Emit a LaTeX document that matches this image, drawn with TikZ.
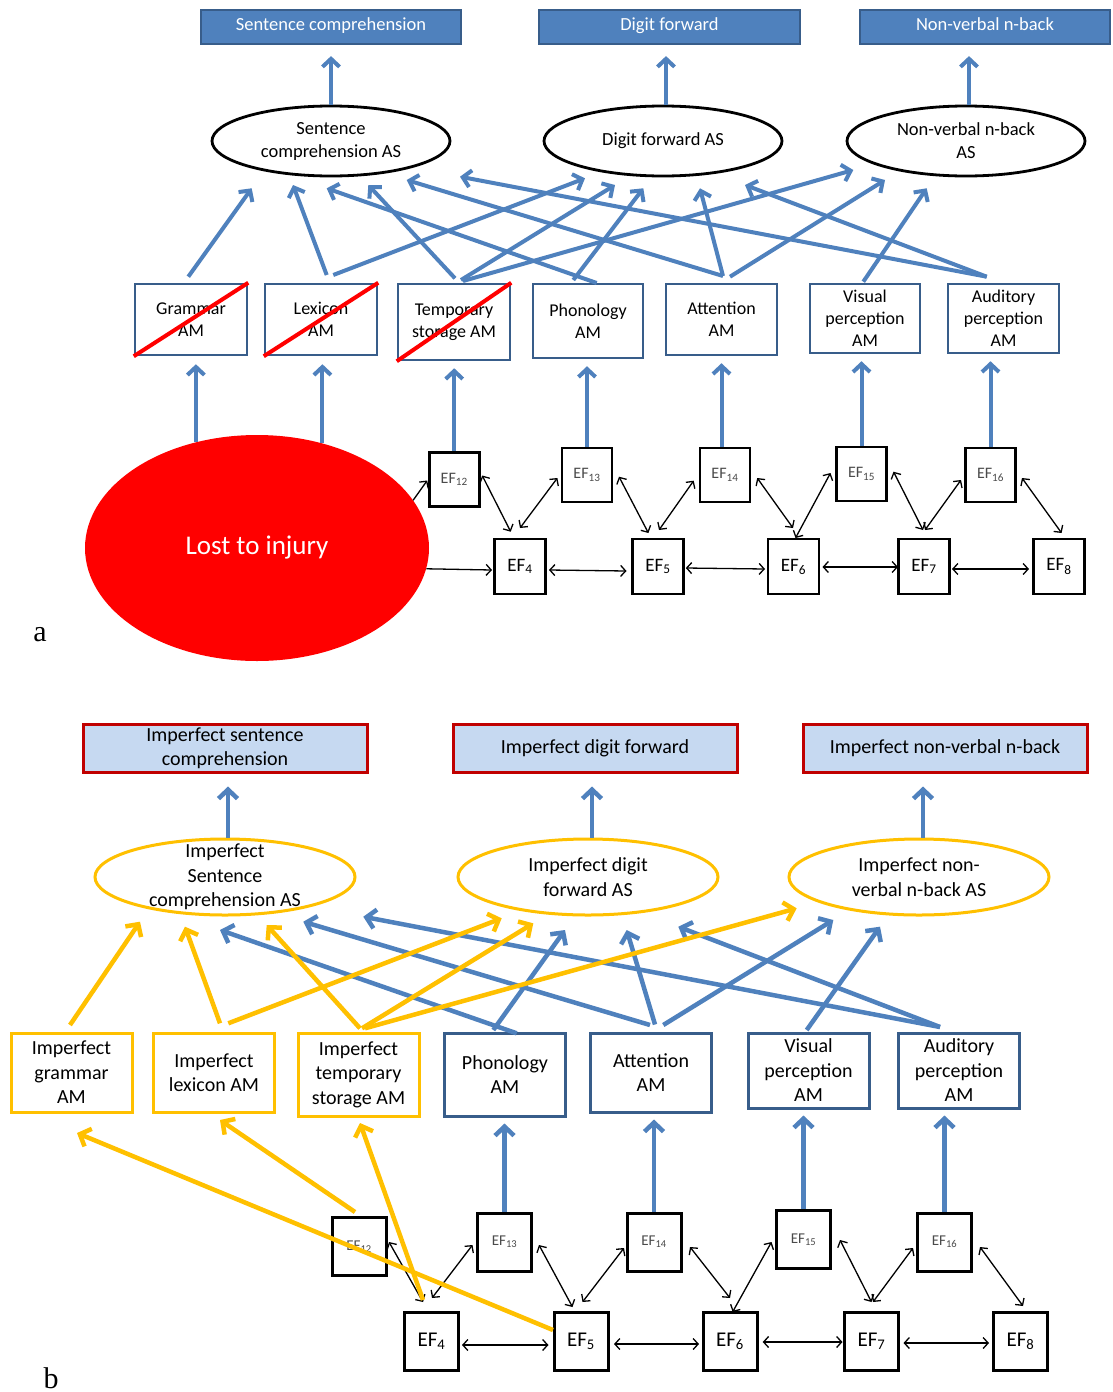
\documentclass[tikz,border=0pt]{standalone}
\usepackage{fontspec}
\setmainfont{Carlito}
\newfontfamily\labfont{Liberation Serif}
\usetikzlibrary{arrows.meta,shapes.geometric,calc}
\definecolor{bl}{HTML}{4F81BD}
\definecolor{bldark}{HTML}{385D8A}
\definecolor{gold}{HTML}{FFC000}
\definecolor{lightbl}{HTML}{C6D9F1}
\definecolor{darkred}{HTML}{C00000}
\definecolor{efgray}{HTML}{4A4A4A}
\newcommand{\EFs}[1]{EF\textsubscript{#1}}
\begin{document}
\begin{tikzpicture}[x=1pt,y=-1pt,
  topa/.style={draw=bldark,line width=2.2pt,fill=bl,text=white,inner sep=0pt,minimum height=34pt,text height=0.75em,text depth=0.05em,font=\fontsize{18.5}{22}\selectfont},
  asa/.style={ellipse,draw=black,line width=2.8pt,inner sep=0pt,minimum width=238pt,minimum height=70pt,align=center,font=\fontsize{18.5}{23}\selectfont},
  ama/.style={rectangle,draw=bldark,line width=2.5pt,fill=white,inner sep=0pt,minimum width=112pt,align=center,font=\fontsize{18}{22}\selectfont},
  strike/.style={draw=red,line width=4pt},
  efa/.style={rectangle,draw=black,line width=2.8pt,fill=white,inner sep=0pt,minimum width=50pt,minimum height=54pt},
  efab/.style={efa,minimum width=51pt,minimum height=55pt,font=\fontsize{19}{22}\selectfont},
  efat/.style={efa,text=efgray,font=\fontsize{16}{18}\selectfont},
  topb/.style={draw=darkred,line width=3pt,fill=lightbl,inner sep=0pt,minimum width=284pt,minimum height=48pt,align=center,font=\fontsize{20}{24}\selectfont},
  asb/.style={ellipse,draw=gold,line width=3pt,inner sep=0pt,minimum width=260pt,minimum height=76pt,align=center,font=\fontsize{20}{24.5}\selectfont},
  amb/.style={rectangle,line width=3pt,fill=white,inner sep=0pt,minimum width=121pt,align=center,font=\fontsize{20}{24.5}\selectfont},
  efb/.style={rectangle,draw=black,line width=3pt,fill=white,inner sep=0pt,minimum width=54pt,minimum height=58pt},
  efbb/.style={efb,font=\fontsize{21}{24}\selectfont},
  efbt/.style={efb,text=efgray,font=\fontsize{15}{17}\selectfont},
  arra/.style={draw=bl,line width=4pt,-{Straight Barb[length=8pt,width=17pt]}},
  arrb/.style={draw=bl,line width=4.5pt,-{Straight Barb[length=9pt,width=19pt]}},
  arrg/.style={draw=gold,line width=4.5pt,-{Straight Barb[length=9pt,width=19pt]}},
  efarr/.style={draw=black,line width=1.3pt,{Straight Barb[length=5pt,width=11pt]}-{Straight Barb[length=5pt,width=11pt]}},
  efone/.style={draw=black,line width=1.3pt,-{Straight Barb[length=5pt,width=11pt]}},
  lab/.style={font=\labfont\fontsize{30}{36}\selectfont,inner sep=0pt,anchor=base}
]
\path[use as bounding box,fill=white] (0,0) rectangle (1112,1392);

% ================= panel a =================
\node[topa,minimum width=260pt] (topA1) at (331,27) {Sentence comprehension};
\node[topa,minimum width=261pt] (topA2) at (669.5,27) {Digit forward};
\node[topa,minimum width=250pt] (topA3) at (985,27) {Non-verbal n-back};

\node[asa] (sasA) at (331,141) {Sentence\\comprehension AS};
\node[asa] (dasA) at (663,141) {Digit forward AS};
\node[asa] (nasA) at (966,141) {Non-verbal n-back\\AS};

\node[ama,minimum height=71pt] (gramA) at (191,319.5) {Grammar\\AM};
\node[ama,minimum height=71pt] (lexA) at (321,319.5) {Lexicon\\AM};
\node[ama,minimum height=76pt] (tempA) at (454,322) {Temporary\\storage AM};
\node[ama,minimum width=110pt,minimum height=74pt] (phonA) at (588,321) {Phonology\\AM};
\node[ama,minimum width=111pt,minimum height=71pt] (attA) at (721.5,319.5) {Attention\\AM};
\node[ama,minimum width=110pt,minimum height=69pt] (visA) at (865,318.5) {Visual\\perception\\AM};
\node[ama,minimum width=111pt,minimum height=69pt] (audA) at (1003.5,318.5) {Auditory\\perception\\AM};

\draw[strike] (gramA.south west) -- (gramA.north east);
\draw[strike] (lexA.south west) -- (lexA.north east);
\draw[strike] (tempA.south west) -- (tempA.north east);

\node[ellipse,fill=red,minimum width=344pt,minimum height=226pt,inner sep=0pt,text=white,font=\fontsize{27}{32}\selectfont] (lost) at (257,548) {Lost to injury};

\node[efat] (ef12a) at (454.2,479.5) {\EFs{12}};
\node[efat] (ef13a) at (587,475) {\EFs{13}};
\node[efat] (ef14a) at (725,475) {\EFs{14}};
\node[efat] (ef15a) at (861.5,474) {\EFs{15}};
\node[efat] (ef16a) at (990.5,475) {\EFs{16}};
\node[efab] (ef4a) at (520,566.5) {\EFs{4}};
\node[efab] (ef5a) at (658,566.5) {\EFs{5}};
\node[efab] (ef6a) at (793.5,566.5) {\EFs{6}};
\node[efab] (ef7a) at (924,566.5) {\EFs{7}};
\node[efab] (ef8a) at (1059,566.5) {\EFs{8}};

% AS -> task
\draw[arra,shorten >=11pt] (sasA.north) -- (sasA.north |- topA1.south);
\draw[arra,shorten >=11pt] ($(dasA.north)+(3,0)$) -- ($(dasA.north |- topA2.south)+(3,0)$);
\draw[arra,shorten >=11pt] ($(nasA.north)+(3,0)$) -- ($(nasA.north |- topA3.south)+(3,0)$);

% AM -> AS
\draw[arra] ($(gramA)+(-2.7,-42.8)$) -- ($(sasA)+(-79.3,47.3)$);
\draw[arra] ($(lexA)+(5.7,-44.5)$) -- ($(sasA)+(-38,44)$);
\draw[arra] ($(lexA)+(12.3,-44.5)$) -- ($(dasA)+(-78,37.3)$);
\draw[arra] ($(tempA)+(1,-43.7)$) -- ($(sasA)+(37.3,44)$);
\draw[arra] ($(tempA)+(7,-42)$) -- ($(dasA)+(-48,44)$);
\draw[arra] ($(tempA)+(9,-41)$) -- ($(nasA)+(-112.7,29)$);
\draw[arra] ($(phonA)+(8.7,-38)$) -- ($(sasA)+(-4.3,47.3)$);
\draw[arra] ($(phonA)+(-14.7,-41)$) -- ($(dasA)+(-19.7,47.3)$);
\draw[arra] ($(attA)+(1.5,-43.5)$) -- ($(sasA)+(75.7,39)$);
\draw[arra] ($(attA)+(1.5,-43.5)$) -- ($(dasA)+(37,47.3)$);
\draw[arra] ($(attA)+(8.5,-42.8)$) -- ($(nasA)+(-81,39)$);
\draw[arra] ($(visA)+(-1.7,-36.8)$) -- ($(nasA)+(-39.3,47.3)$);
\draw[arra] ($(audA)+(-16.8,-41.8)$) -- ($(sasA)+(129,35.7)$);
\draw[arra] ($(audA)+(-16.8,-41.8)$) -- ($(dasA)+(82,44)$);

% EF / injury -> AM
\draw[arra,shorten >=8pt] (lost.120.6) -- (lost.120.6 |- gramA.south);
\draw[arra,shorten >=8pt] (lost.58.2) -- (lost.58.2 |- lexA.south);
\draw[arra,shorten >=7pt] (ef12a.north) -- (ef12a.north |- tempA.south);
\draw[arra,shorten >=7pt] (ef13a.north) -- (ef13a.north |- phonA.south);
\draw[arra,shorten >=7pt] (attA.south |- ef14a.north) -- (attA.south);
\draw[arra,shorten >=7pt] (ef15a.north) -- (ef15a.north |- visA.south);
\draw[arra,shorten >=7pt] (ef16a.north) -- (ef16a.north |- audA.south);

% EF network
\draw[efone] (lost.17.1) -- ($(ef12a)+(-27,1)$);
\draw[efone] (lost.-7.4) -- ($(ef4a)+(-28,3.5)$);
\draw[efarr] ($(ef12a)+(28,-4)$) -- ($(ef4a)+(-9.3,-34.8)$);
\draw[efarr] ($(ef13a)+(-29.6,3)$) -- ($(ef4a)+(0,-38.5)$);
\draw[efarr] ($(ef13a)+(32,1.7)$) -- ($(ef5a)+(-9.6,-33.5)$);
\draw[efarr] ($(ef14a)+(-31.3,5.7)$) -- ($(ef5a)+(1,-36.5)$);
\draw[efarr] ($(ef14a)+(32.2,3)$) -- ($(ef6a)+(-0.5,-38.5)$);
\draw[efarr] ($(ef15a)+(-31,-1)$) -- ($(ef6a)+(2,-28.5)$);
\draw[efarr] ($(ef15a)+(32,-2.3)$) -- ($(ef7a)+(-1,-36.5)$);
\draw[efarr] ($(ef16a)+(-29.5,5)$) -- ($(ef7a)+(1,-36.5)$);
\draw[efarr] ($(ef16a)+(31.5,3)$) -- ($(ef8a)+(2.6,-33.5)$);
\draw[efarr] ($(ef4a)+(29,3.5)$) -- ($(ef5a)+(-31.5,4.5)$);
\draw[efarr] ($(ef5a)+(27.8,1.5)$) -- ($(ef6a)+(-28.5,2.5)$);
\draw[efarr] ($(ef6a)+(29,0.5)$) -- ($(ef7a)+(-26,0.5)$);
\draw[efarr] ($(ef7a)+(28,2.5)$) -- ($(ef8a)+(-30,2.5)$);

\node[lab] (labA) at (40,641) {a};

% ================= panel b =================
\node[topb] (topB1) at (225,748) {Imperfect sentence\\comprehension};
\node[topb] (topB2) at (595,748) {Imperfect digit forward};
\node[topb] (topB3) at (945,748) {Imperfect non-verbal n-back};

\node[asb,inner ysep=-14pt] (sasB) at (225,877) {Imperfect\\Sentence\\comprehension AS};
\node[asb] (dasB) at (588,877) {Imperfect digit\\forward AS};
\node[asb] (nasB) at (919,877) {Imperfect non-\\verbal n-back AS};

\node[amb,draw=gold,minimum height=79pt] (gramB) at (71.5,1072.5) {Imperfect\\grammar\\AM};
\node[amb,draw=gold,minimum height=79pt] (lexB) at (214,1072.5) {Imperfect\\lexicon AM};
\node[amb,draw=gold,minimum height=83pt] (tempB) at (358.5,1074.5) {Imperfect\\temporary\\storage AM};
\node[amb,draw=bldark,minimum height=83pt] (phonB) at (505,1074.5) {Phonology\\AM};
\node[amb,draw=bldark,minimum height=79pt] (attB) at (651,1072.5) {Attention\\AM};
\node[amb,draw=bldark,minimum height=75pt] (visB) at (808.5,1070.5) {Visual\\perception\\AM};
\node[amb,draw=bldark,minimum height=75pt] (audB) at (959,1070.5) {Auditory\\perception\\AM};

\node[efbt] (ef12b) at (359,1246.5) {\EFs{12}};
\node[efbt] (ef13b) at (504.5,1242) {\EFs{13}};
\node[efbt] (ef14b) at (654,1242) {\EFs{14}};
\node[efbt] (ef15b) at (803.5,1239.5) {\EFs{15}};
\node[efbt] (ef16b) at (944.5,1242) {\EFs{16}};
\node[efbb] (ef4b) at (431.5,1341) {\EFs{4}};
\node[efbb] (ef5b) at (581,1341) {\EFs{5}};
\node[efbb] (ef6b) at (730,1341) {\EFs{6}};
\node[efbb] (ef7b) at (871.5,1341) {\EFs{7}};
\node[efbb] (ef8b) at (1020.5,1341) {\EFs{8}};

% AS -> task
\draw[arrb,shorten >=13pt] ($(sasB.north)+(3,0)$) -- ($(sasB.north |- topB1.south)+(3,0)$);
\draw[arrb,shorten >=13pt] ($(dasB.north)+(4,0)$) -- ($(dasB.north |- topB2.south)+(4,0)$);
\draw[arrb,shorten >=13pt] ($(nasB.north)+(4,0)$) -- ($(nasB.north |- topB3.south)+(4,0)$);

% blue AM -> AS
\draw[arrb] ($(phonB)+(11.7,-41.2)$) -- ($(sasB)+(-5,53)$);
\draw[arrb] ($(phonB)+(-11.7,-44.5)$) -- ($(dasB)+(-23,53)$);
\draw[arrb] ($(attB)+(-1,-47.5)$) -- ($(sasB)+(78.3,44.7)$);
\draw[arrb] ($(attB)+(4,-48)$) -- ($(dasB)+(38.7,53)$);
\draw[arrb] ($(attB)+(12.3,-47.5)$) -- ($(nasB)+(-85.7,43)$);
\draw[arrb] ($(visB)+(-1.8,-40.5)$) -- ($(nasB)+(-39,49.7)$);
\draw[arrb] ($(audB)+(-19,-43.5)$) -- ($(sasB)+(138.3,39.7)$);
\draw[arrb] ($(audB)+(-19,-43.5)$) -- ($(dasB)+(90.3,49.7)$);

% gold AM -> AS
\draw[arrg] ($(gramB)+(-1.5,-47.5)$) -- ($(sasB)+(-85,44.7)$);
\draw[arrg] ($(lexB)+(6,-49.2)$) -- ($(sasB)+(-40,49.7)$);
\draw[arrg] ($(lexB)+(14.3,-49.2)$) -- ($(dasB)+(-86.3,41.3)$);
\draw[arrg] ($(tempB)+(1.5,-46.2)$) -- ($(sasB)+(41.7,48)$);
\draw[arrg] ($(tempB)+(3.5,-46.2)$) -- ($(dasB)+(-54.7,46.3)$);
\draw[arrg] ($(tempB)+(6.5,-46.2)$) -- ($(nasB)+(-122.3,31.3)$);

% EF -> AM (blue)
\draw[arrb,shorten >=6pt] (ef13b.north) -- (ef13b.north |- phonB.south);
\draw[arrb,shorten >=6pt] (ef14b.north) -- (ef14b.north |- attB.south);
\draw[arrb,shorten >=6pt] (ef15b.north) -- (ef15b.north |- visB.south);
\draw[arrb,shorten >=6pt] (ef16b.north) -- (ef16b.north |- audB.south);

% EF network
\draw[efarr] ($(ef12b)+(30,-4.5)$) -- ($(ef4b)+(-8.5,-39)$);
\draw[efarr] ($(ef13b)+(-32,3)$) -- ($(ef4b)+(0.5,-43)$);
\draw[efarr] ($(ef13b)+(34.5,3)$) -- ($(ef5b)+(-8.5,-34)$);
\draw[efarr] ($(ef14b)+(-30,6)$) -- ($(ef5b)+(1.5,-39)$);
\draw[efarr] ($(ef14b)+(36,5)$) -- ($(ef6b)+(0,-43)$);
\draw[efarr] ($(ef15b)+(-32,2.5)$) -- ($(ef6b)+(2.6,-29)$);
\draw[efarr] ($(ef15b)+(36.5,0.5)$) -- ($(ef7b)+(0,-39)$);
\draw[efarr] ($(ef16b)+(-31.5,6)$) -- ($(ef7b)+(1.5,-39)$);
\draw[efarr] ($(ef16b)+(35.5,5)$) -- ($(ef8b)+(2.5,-35)$);
\draw[efarr] ($(ef4b)+(30.5,4)$) -- ($(ef5b)+(-32.5,4)$);
\draw[efarr] ($(ef5b)+(33,3)$) -- ($(ef6b)+(-31,3)$);
\draw[efarr] ($(ef6b)+(32.7,1)$) -- ($(ef7b)+(-29,1)$);
\draw[efarr] ($(ef7b)+(32,2)$) -- ($(ef8b)+(-31.5,2)$);

% gold EF -> AM
\draw[arrg] ($(ef12b)+(-4,-34.5)$) -- ($(lexB)+(6,47.5)$);
\draw[arrg] ($(ef5b)+(-28,-11)$) -- ($(gramB)+(5.5,60.5)$);
\draw[arrg] ($(ef4b)+(-8.5,-41)$) -- ($(tempB)+(1.5,48.5)$);

\node[lab] (labB) at (51,1388) {b};
\end{tikzpicture}
\end{document}
